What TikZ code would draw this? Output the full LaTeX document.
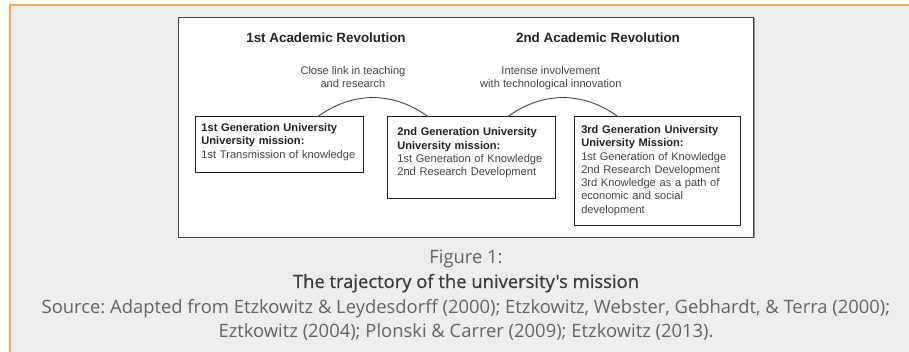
\documentclass[tikz,border=0pt]{standalone}
\usepackage{fontspec}
\setmainfont{Liberation Sans}
\newfontfamily\capfont{Open Sans}
\newfontfamily\capfontsemi{Open Sans}[FakeBold=0.6]
\usepackage{xcolor}
\usetikzlibrary{positioning,calc}
\frenchspacing

\definecolor{pagegray}{HTML}{EEEDED}
\definecolor{edgeorange}{HTML}{F5A762}
\definecolor{inkdark}{HTML}{222222}
\definecolor{inkgray}{HTML}{454545}
\definecolor{capgray}{HTML}{646464}
\definecolor{captitle}{HTML}{3A3A3A}

% bold heading lines inside the generation boxes
\newcommand{\genhead}[1]{{\color{inkdark}\bfseries #1}}

\begin{document}
\begin{tikzpicture}[x=1pt, y=-1pt,
  gen/.style={draw=inkdark, line width=0.9pt, fill=white, anchor=north west, align=left,
    text width=156pt, inner xsep=6pt, inner ysep=7pt, text=inkgray,
    font={\fontsize{11.1}{13.3}\selectfont\hyphenpenalty=10000}},
  rev/.style={anchor=base, text=inkdark, font=\fontsize{13.4}{16}\selectfont\bfseries},
  lbl/.style={align=center, text=inkgray, font=\fontsize{11.1}{13.3}\selectfont},
  linkarc/.style={draw=inkgray, line width=0.9pt},
  captext/.style={anchor=base, text=capgray, font=\capfont\fontsize{18.4}{24}\selectfont}
]
  \useasboundingbox (0,0) rectangle (909,352);

  % page background with orange edge
  \fill[pagegray] (10,5) rectangle (909,352);
  \draw[edgeorange, line width=1.6pt] (10,352) -- (10,5) -- (909,5);

  % white figure frame with a soft shadow
  \fill[black!45] (179.5,18.5) rectangle (754.5,238.5);
  \draw[inkgray, line width=0.8pt, fill=white] (178,17) rectangle (753,237);

  % Revolutions
  \node[rev] (rev1) at (326,43) {1st Academic Revolution};
  \node[rev] (rev2) at (598,43) {2nd Academic Revolution};

  % Generations
  \node[gen, text height=7.5pt, text depth=34pt] (gen1) at (195,116.5)
    {\genhead{1st Generation University}\\\genhead{University mission:}\\1st Transmission of knowledge};
  \node[gen, text width=148pt, inner xsep=10pt, text height=12pt, text depth=56pt,
    right=23pt of gen1.north east, anchor=north west] (gen2)
    {\genhead{2nd Generation University}\\\genhead{University mission:}\\1st Generation of Knowledge\\2nd Research Development};
  \node[gen, text width=152pt, inner xsep=7pt, text height=9.5pt, text depth=85pt,
    right=18pt of gen2.north east, anchor=north west] (gen3)
    {\genhead{3rd Generation University}\\\genhead{University Mission:}\\1st Generation of Knowledge\\2nd Research Development\\3rd Knowledge as a path of\\economic and social\\development};

  % Arcs between generations
  \coordinate (link1a) at ($(gen1.north west)+(123,0)$);
  \coordinate (link1b) at ($(gen2.north west)+(41,0)$);
  \coordinate (link2a) at ($(gen2.north west)+(121,0)$);
  \coordinate (link2b) at ($(gen3.north west)+(44,0)$);
  \draw[linkarc] (link1a) to[bend left=36] node[lbl, above=6pt, xshift=-20pt] (link1) {Close link in teaching\\and research} (link1b);
  \draw[linkarc] (link2a) to[bend left=36] node[lbl, above=4pt, xshift=-12pt] (link2) {Intense involvement\\with technological innovation} (link2b);

  % Caption
  \node[captext] (fig) at (466,264) {Figure 1:};
  \node[captext, text=captitle, font=\capfontsemi\fontsize{18.4}{24}\selectfont] (title) at (466,288) {The trajectory of the university's mission};
  \node[captext] (src1) at (466,313) {Source: Adapted from Etzkowitz \& Leydesdorff (2000); Etzkowitz, Webster, Gebhardt, \& Terra (2000);};
  \node[captext] (src2) at (466,337) {Eztkowitz (2004); Plonski \& Carrer (2009); Etzkowitz (2013).};
\end{tikzpicture}
\end{document}
